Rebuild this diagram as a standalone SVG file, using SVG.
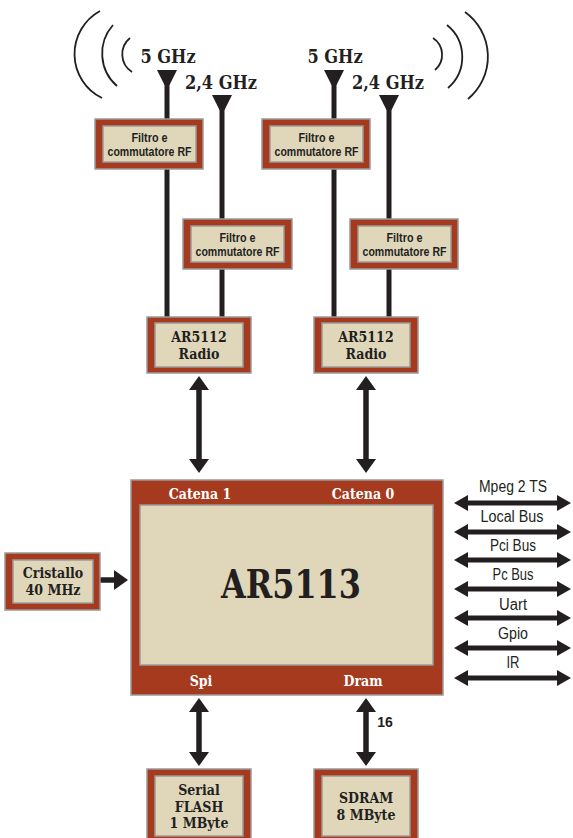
<svg xmlns="http://www.w3.org/2000/svg" width="573" height="838" viewBox="0 0 573 838">
<defs>
<style>
.red{fill:#a63a1e;stroke:#9b9b9b;stroke-width:1.5}
.bg{fill:#e0d7bb;stroke:#9b9b9b;stroke-width:1.5}
.ser{font-family:'DejaVu Serif Condensed','DejaVu Serif','Liberation Serif',serif;font-weight:bold;fill:#231f20;text-anchor:middle}
.wht{font-family:'DejaVu Serif Condensed','DejaVu Serif','Liberation Serif',serif;font-weight:bold;fill:#ffffff;text-anchor:middle;font-size:14px}
.filt{font-family:'Liberation Sans',Arial,sans-serif;font-weight:bold;fill:#231f20;text-anchor:middle;font-size:12px}
.bus{font-family:'Liberation Sans',Arial,sans-serif;fill:#231f20;text-anchor:middle;font-size:16px}
.ant{stroke:#231f20;stroke-width:5;fill:none}
.arc{stroke:#231f20;stroke-width:1.8;fill:none}
.arr{stroke:#231f20;stroke-width:5.5;fill:none}
.arrs{stroke:#231f20;stroke-width:5;fill:none}
</style>
<marker id="ah" markerUnits="userSpaceOnUse" markerWidth="14" markerHeight="20" viewBox="0 0 14 20" refX="1" refY="10" orient="auto-start-reverse"><path d="M0,0 L14,10 L0,20 z" fill="#231f20"/></marker>
<marker id="ahs" markerUnits="userSpaceOnUse" markerWidth="14" markerHeight="16" viewBox="0 0 14 16" refX="1" refY="8" orient="auto-start-reverse"><path d="M0,0 L14,8 L0,16 z" fill="#231f20"/></marker>
</defs>
<rect width="573" height="838" fill="#ffffff"/>

<g id="waves">
<path class="arc" d="M100,11 A49,49 0 0 0 102,98"/>
<path class="arc" d="M113,25 A43,43 0 0 0 117,86"/>
<path class="arc" d="M130,38 A21,21 0 0 0 132,72"/>
<path class="arc" d="M465,12 A55,55 0 0 1 468,99"/>
<path class="arc" d="M447,25 A41,41 0 0 1 448,88"/>
<path class="arc" d="M433,38 A20,20 0 0 1 435,70"/>
</g>

<g id="connectors">
<line class="ant" x1="167" y1="80" x2="167" y2="318"/>
<line class="ant" x1="222" y1="105" x2="222" y2="318"/>
<line class="ant" x1="334" y1="80" x2="334" y2="318"/>
<line class="ant" x1="389" y1="105" x2="389" y2="318"/>
<polygon points="157,70 177,70 169.5,85 164.5,85" fill="#231f20"/>
<polygon points="212,95 232,95 224.5,110 219.5,110" fill="#231f20"/>
<polygon points="324,70 344,70 336.5,85 331.5,85" fill="#231f20"/>
<polygon points="379,95 399,95 391.5,110 386.5,110" fill="#231f20"/>
<line class="arr" x1="199" y1="389" x2="199" y2="460" marker-start="url(#ah)" marker-end="url(#ah)"/>
<line class="arr" x1="366" y1="389" x2="366" y2="460" marker-start="url(#ah)" marker-end="url(#ah)"/>
<line class="arr" x1="199" y1="711" x2="199" y2="753" marker-start="url(#ah)" marker-end="url(#ah)"/>
<line class="arr" x1="366" y1="711" x2="366" y2="753" marker-start="url(#ah)" marker-end="url(#ah)"/>
<line class="arr" x1="100" y1="580" x2="115" y2="580" marker-end="url(#ah)"/>
<line class="arrs" x1="467" y1="503" x2="558" y2="503" marker-start="url(#ahs)" marker-end="url(#ahs)"/>
<line class="arrs" x1="467" y1="532" x2="558" y2="532" marker-start="url(#ahs)" marker-end="url(#ahs)"/>
<line class="arrs" x1="467" y1="560" x2="558" y2="560" marker-start="url(#ahs)" marker-end="url(#ahs)"/>
<line class="arrs" x1="467" y1="589" x2="558" y2="589" marker-start="url(#ahs)" marker-end="url(#ahs)"/>
<line class="arrs" x1="467" y1="618" x2="558" y2="618" marker-start="url(#ahs)" marker-end="url(#ahs)"/>
<line class="arrs" x1="467" y1="648" x2="558" y2="648" marker-start="url(#ahs)" marker-end="url(#ahs)"/>
<line class="arrs" x1="467" y1="678" x2="558" y2="678" marker-start="url(#ahs)" marker-end="url(#ahs)"/>
</g>

<g id="labels">
<text class="ser" x="168" y="63" font-size="18">5 GHz</text>
<text class="ser" x="221" y="89" font-size="18">2,4 GHz</text>
<text class="ser" x="335" y="63" font-size="18">5 GHz</text>
<text class="ser" x="388" y="89" font-size="18">2,4 GHz</text>
<text class="bus" x="513" y="492" textLength="68" lengthAdjust="spacingAndGlyphs">Mpeg 2 TS</text>
<text class="bus" x="512" y="522" textLength="63" lengthAdjust="spacingAndGlyphs">Local Bus</text>
<text class="bus" x="513" y="551" textLength="46" lengthAdjust="spacingAndGlyphs">Pci Bus</text>
<text class="bus" x="513" y="580" textLength="41" lengthAdjust="spacingAndGlyphs">Pc Bus</text>
<text class="bus" x="513" y="610" textLength="28" lengthAdjust="spacingAndGlyphs">Uart</text>
<text class="bus" x="513" y="639" textLength="30" lengthAdjust="spacingAndGlyphs">Gpio</text>
<text class="bus" x="513" y="668" textLength="13" lengthAdjust="spacingAndGlyphs">IR</text>
<text x="385" y="727" font-family="'Liberation Sans',Arial,sans-serif" font-weight="bold" font-size="14" fill="#231f20" text-anchor="middle">16</text>
</g>

<g id="filtro1">
<rect class="red" x="95" y="119" width="108" height="50"/>
<rect class="bg" x="103" y="126" width="93" height="36"/>
<text class="filt" x="149.5" y="142" textLength="36" lengthAdjust="spacingAndGlyphs">Filtro e</text>
<text class="filt" x="149.5" y="156" textLength="84" lengthAdjust="spacingAndGlyphs">commutatore RF</text>
</g>
<g id="filtro2">
<rect class="red" x="183" y="219" width="109" height="50"/>
<rect class="bg" x="191" y="226" width="93" height="36"/>
<text class="filt" x="237.5" y="242" textLength="36" lengthAdjust="spacingAndGlyphs">Filtro e</text>
<text class="filt" x="237.5" y="256" textLength="84" lengthAdjust="spacingAndGlyphs">commutatore RF</text>
</g>
<g id="filtro3">
<rect class="red" x="262" y="119" width="108" height="50"/>
<rect class="bg" x="270" y="126" width="93" height="36"/>
<text class="filt" x="316.5" y="142" textLength="36" lengthAdjust="spacingAndGlyphs">Filtro e</text>
<text class="filt" x="316.5" y="156" textLength="84" lengthAdjust="spacingAndGlyphs">commutatore RF</text>
</g>
<g id="filtro4">
<rect class="red" x="350" y="219" width="108" height="50"/>
<rect class="bg" x="358" y="226" width="93" height="36"/>
<text class="filt" x="404.5" y="242" textLength="36" lengthAdjust="spacingAndGlyphs">Filtro e</text>
<text class="filt" x="404.5" y="256" textLength="84" lengthAdjust="spacingAndGlyphs">commutatore RF</text>
</g>

<g id="radio1">
<rect class="red" x="147" y="317" width="104" height="56"/>
<rect class="bg" x="155" y="323" width="88" height="44"/>
<text class="ser" x="199" y="342" font-size="14">AR5112</text>
<text class="ser" x="199" y="358.5" font-size="14">Radio</text>
</g>
<g id="radio0">
<rect class="red" x="314" y="317" width="104" height="56"/>
<rect class="bg" x="322" y="323" width="88" height="44"/>
<text class="ser" x="366" y="342" font-size="14">AR5112</text>
<text class="ser" x="366" y="358.5" font-size="14">Radio</text>
</g>

<g id="chip">
<rect class="red" x="131" y="480" width="312" height="215"/>
<rect class="bg" x="140" y="505" width="293" height="160"/>
<text class="wht" x="200" y="499">Catena 1</text>
<text class="wht" x="363" y="499">Catena 0</text>
<text class="wht" x="201" y="686">Spi</text>
<text class="wht" x="363" y="686">Dram</text>
<text class="ser" x="291" y="598" font-size="40" textLength="140" lengthAdjust="spacingAndGlyphs">AR5113</text>
</g>

<g id="cristallo">
<rect class="red" x="5" y="553" width="95" height="57"/>
<rect class="bg" x="13" y="560" width="80" height="43"/>
<text class="ser" x="53" y="578" font-size="14">Cristallo</text>
<text class="ser" x="53" y="594.5" font-size="14">40 MHz</text>
</g>

<g id="flash">
<rect class="red" x="147" y="769" width="104" height="75"/>
<rect class="bg" x="155" y="776" width="88" height="60"/>
<text class="ser" x="199" y="795" font-size="14">Serial</text>
<text class="ser" x="199" y="811.5" font-size="14">FLASH</text>
<text class="ser" x="199" y="828" font-size="14">1 MByte</text>
</g>
<g id="sdram">
<rect class="red" x="314" y="769" width="104" height="75"/>
<rect class="bg" x="322" y="776" width="88" height="60"/>
<text class="ser" x="366" y="803" font-size="14">SDRAM</text>
<text class="ser" x="366" y="819.5" font-size="14">8 MByte</text>
</g>
</svg>
